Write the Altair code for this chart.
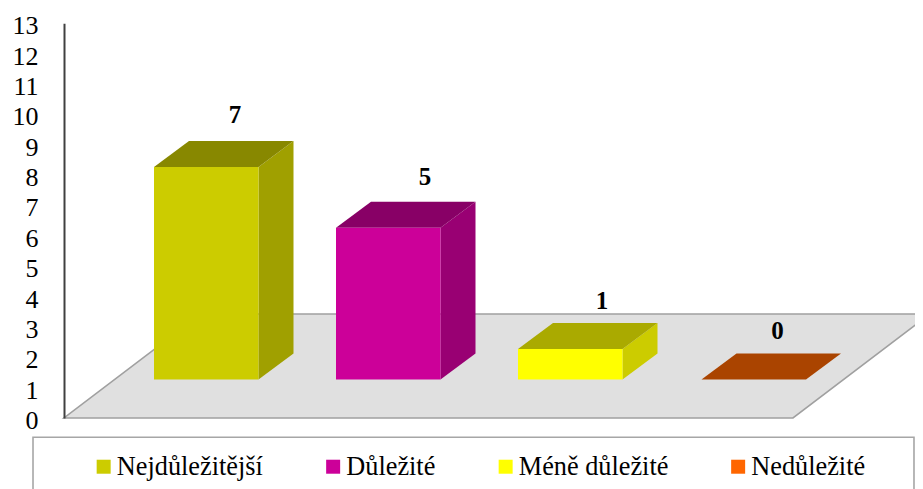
import altair as alt
import pandas as pd

# chart values
categories = ["Nejdůležitější", "Důležité", "Méně důležité", "Nedůležité"]
values = [7, 5, 1, 0]
tick_labels = list(range(0, 14))

# colours per category
front_colors = ["#cccc00", "#cc0099", "#ffff00", "#ff6600"]
top_colors = ["#888800", "#880066", "#aaaa00", "#aa4400"]
side_colors = ["#a0a000", "#990073", "#cccc00", "#cc5200"]

# layout of the pseudo-3D box (x in px from the axis, y in value units)
PX = 30.36
W, H = 851, 13 * PX
bar_left = [90, 272, 454, 637.5]
bar_w = 104.5
dx, dy = 35, 26 / PX
base = 38.5 / PX
floor_depth = 104 / PX
label_dx = [81, 89, 84, 76]
label_lift = [52, 51, 48, 48]

floor = pd.DataFrame({"y": [0, floor_depth], "x": [0, 137], "x2": [729, 866]})

front, side, top, labels = [], [], [], []
for i, c in enumerate(categories):
    v, L = values[i], bar_left[i]
    R = L + bar_w
    front.append(dict(cat=c, x=L, x2=R, y=base, y2=base + v))
    side += [dict(cat=c, col=side_colors[i], x=R, y=base, y2=base + v),
             dict(cat=c, col=side_colors[i], x=R + dx, y=base + dy, y2=base + dy + v)]
    top += [dict(cat=c, col=top_colors[i], y=base + v, x=L, x2=R),
            dict(cat=c, col=top_colors[i], y=base + v + dy, x=L + dx, x2=R + dx)]
    labels.append(dict(cat=c, v=v, x=L + label_dx[i], y=base + v + label_lift[i] / PX))

xs = alt.Scale(domain=[0, W], nice=False, zero=False)
ys = alt.Scale(domain=[0, 13], nice=False, zero=False)
X = alt.X("x:Q", scale=xs, axis=None)
Y = alt.Y("y:Q", scale=ys, axis=alt.Axis(
    values=tick_labels, title=None, grid=False, ticks=False, format="d",
    labelFont="Liberation Serif", labelFontSize=26, labelColor="#000000",
    labelPadding=26, labelOffset=2.5, labelOverlap=False, labelFlush=False,
    domainColor="#404040", domainWidth=2, zindex=1))
FONT = "Liberation Serif"

frame = alt.Chart(pd.DataFrame({"k": [0]})).mark_rect(
    fill="#ffffff", stroke="#a6a6a6", strokeWidth=1.6).encode(
    x=alt.value(-31), x2=alt.value(850), y=alt.value(414), y2=alt.value(490))

floor_l = alt.Chart(floor).mark_area(
    orient="horizontal", fill="#e0e0e0", stroke="#a0a0a0", strokeWidth=1.6).encode(
    y=Y, x=alt.X("x:Q", scale=xs, axis=None), x2="x2:Q")

side_l = alt.Chart(pd.DataFrame(side)).mark_area().encode(
    x=X, y=Y, y2="y2:Q", detail="cat:N", fill=alt.Fill("col:N", scale=None))

top_l = alt.Chart(pd.DataFrame(top)).mark_area(orient="horizontal").encode(
    y=Y, x=X, x2="x2:Q", detail="cat:N", fill=alt.Fill("col:N", scale=None))

front_l = alt.Chart(pd.DataFrame(front)).mark_rect().encode(
    x=X, x2="x2:Q", y=Y, y2="y2:Q",
    color=alt.Color("cat:N", scale=alt.Scale(domain=categories, range=front_colors),
                    sort=categories,
                    legend=alt.Legend(
                        title=None, orient="none", legendX=26.5, legendY=430,
                        direction="horizontal", columns=4, columnPadding=56.5,
                        symbolType="square", symbolSize=196, symbolStrokeWidth=0,
                        symbolOpacity=1, labelFont=FONT, labelFontSize=26.3,
                        labelColor="#000000", labelOffset=0, padding=0)))

text_l = alt.Chart(pd.DataFrame(labels)).mark_text(
    font=FONT, fontSize=25, fontWeight="bold", color="#000000", baseline="middle").encode(
    x=X, y=Y, text="v:Q")

chart = alt.layer(frame, floor_l, side_l, top_l, front_l, text_l).properties(
    width=W, height=H,
    autosize=alt.AutoSizeParams(type="none"),
    padding={"left": 56, "top": 15.3, "right": 0, "bottom": 70.7},
    background="#ffffff",
).configure_view(stroke=None)

chart.save("out.html", embed_options={"renderer": "svg", "actions": False})
